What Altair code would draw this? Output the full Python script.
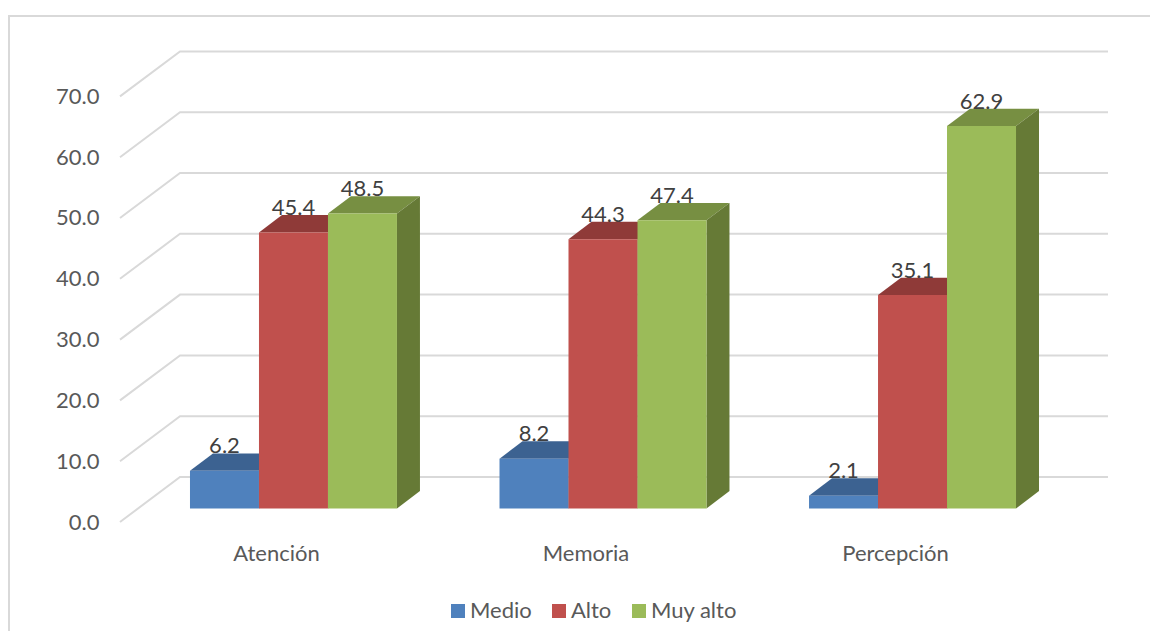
import altair as alt
import pandas as pd

categories = ["Atención", "Memoria", "Percepción"]
series = ["Medio", "Alto", "Muy alto"]
medio = [6.2, 8.2, 2.1]
alto = [45.4, 44.3, 35.1]
muy_alto = [48.5, 47.4, 62.9]
ticks = [0, 10, 20, 30, 40, 50, 60, 70]
front_colors = ["#4f81bd", "#c0504d", "#9bbb59"]
top_colors = ["#3c6291", "#8f3a38", "#778f42"]
side_colors = ["#365880", "#7f3331", "#667a36"]

# projection of the oblique 3D view, in data units
BAR_W = 0.2229      # one bar's width, category units
BAR_X0 = -0.2779    # first bar's left edge relative to the category
DX = 0.0743         # bar depth along x
DY = 2.86           # bar depth along y
BASE = 2.22         # bar foot above the front floor edge
WALL_DX = 0.1939    # back wall shift along x
WALL_DY = 7.4       # back wall shift along y
X_DOMAIN = [-0.504, 2.688]
Y_DOMAIN = [0, 77.3]

front, top, side, labels = [], [], [], []
for s, (name, vals) in enumerate(zip(series, [medio, alto, muy_alto])):
    for c, v in enumerate(vals):
        x0 = c + BAR_X0 + s * BAR_W
        x1 = x0 + BAR_W
        t = BASE + v
        key = f"{c}-{s}"
        front.append(dict(x=x0, x2=x1, y=BASE, y2=t, serie=name))
        labels.append(dict(x=(x0 + x1) / 2, y=t + DY, txt=f"{v:.1f}"))
        for px, py, py2 in [(x0, t, t), (x0 + DX, t + DY, t), (x1, t + DY, t), (x1 + DX, t + DY, t + DY)]:
            top.append(dict(x=px, y=py, y2=py2, id=key, c=top_colors[s]))
        for px, py, py2 in [(x1, t, BASE), (x1 + DX, t + DY, BASE + DY)]:
            side.append(dict(x=px, y=py, y2=py2, id=key, c=side_colors[s]))

grid = []
for v in ticks:
    grid.append(dict(x=X_DOMAIN[0], y=v, id=v))
    grid.append(dict(x=X_DOMAIN[0] + WALL_DX, y=v + WALL_DY, id=v))
    grid.append(dict(x=X_DOMAIN[1], y=v + WALL_DY, id=v))

FONT = "Lato"
label_expr = "[" + ",".join(f"'{c}'" for c in categories) + "][datum.value]"
x_scale = alt.Scale(domain=X_DOMAIN, nice=False, zero=False)
y_scale = alt.Scale(domain=Y_DOMAIN, nice=False, zero=False)
x_axis = alt.Axis(values=[0, 1, 2], labelExpr=label_expr, grid=False, ticks=False, domain=False, title=None,
                  labelFont=FONT, labelFontSize=22, labelColor="#595959", labelPadding=21, labelFlush=False)
y_axis = alt.Axis(values=ticks, format=".1f", grid=False, ticks=False, domain=False, title=None,
                  labelFont=FONT, labelFontSize=22, labelColor="#595959", labelPadding=21)
X = alt.X("x:Q", scale=x_scale, axis=x_axis)
Y = alt.Y("y:Q", scale=y_scale, axis=y_axis)

grid_layer = alt.Chart(pd.DataFrame(grid)).mark_line(color="#d9d9d9", strokeWidth=2).encode(
    x=X, y=Y, detail="id:N")
top_layer = alt.Chart(pd.DataFrame(top)).mark_area(orient="vertical", opacity=1).encode(
    x=X, y=Y, y2="y2:Q", detail="id:N", color=alt.Color("c:N", scale=None))
side_layer = alt.Chart(pd.DataFrame(side)).mark_area(orient="vertical", opacity=1).encode(
    x=X, y=Y, y2="y2:Q", detail="id:N", color=alt.Color("c:N", scale=None))
front_layer = alt.Chart(pd.DataFrame(front)).mark_rect().encode(
    x=X, x2="x2:Q", y=Y, y2="y2:Q",
    color=alt.Color("serie:N", scale=alt.Scale(domain=series, range=front_colors), title=None,
                    legend=alt.Legend(orient="none", legendX=327, legendY=548, direction="horizontal",
                                      symbolType="square", symbolSize=196, symbolStrokeWidth=0,
                                      labelFont=FONT, labelFontSize=22, labelColor="#595959",
                                      labelOffset=1, columnPadding=16, title=None)),
)
text_layer = alt.Chart(pd.DataFrame(labels)).mark_text(
    font=FONT, fontSize=22, color="#404040", baseline="alphabetic", align="center"
).encode(x=X, y=Y, text="txt:N")

frame = alt.Chart(pd.DataFrame({"a": [0]})).mark_rect(
    fill=None, stroke="#d9d9d9", strokeWidth=2
).encode(x=alt.value(-111), x2=alt.value(1200), y=alt.value(-36), y2=alt.value(700))

chart = alt.layer(frame, grid_layer, top_layer, side_layer, front_layer, text_layer).resolve_scale(
    color="independent"
).properties(
    width=988, height=470,
    padding={"left": 112, "top": 44, "right": 42, "bottom": 109},
    autosize=alt.AutoSizeParams(type="none"),
    background="white",
).configure_view(stroke=None)

chart.save("out.html", embed_options={"renderer": "svg", "actions": False})
